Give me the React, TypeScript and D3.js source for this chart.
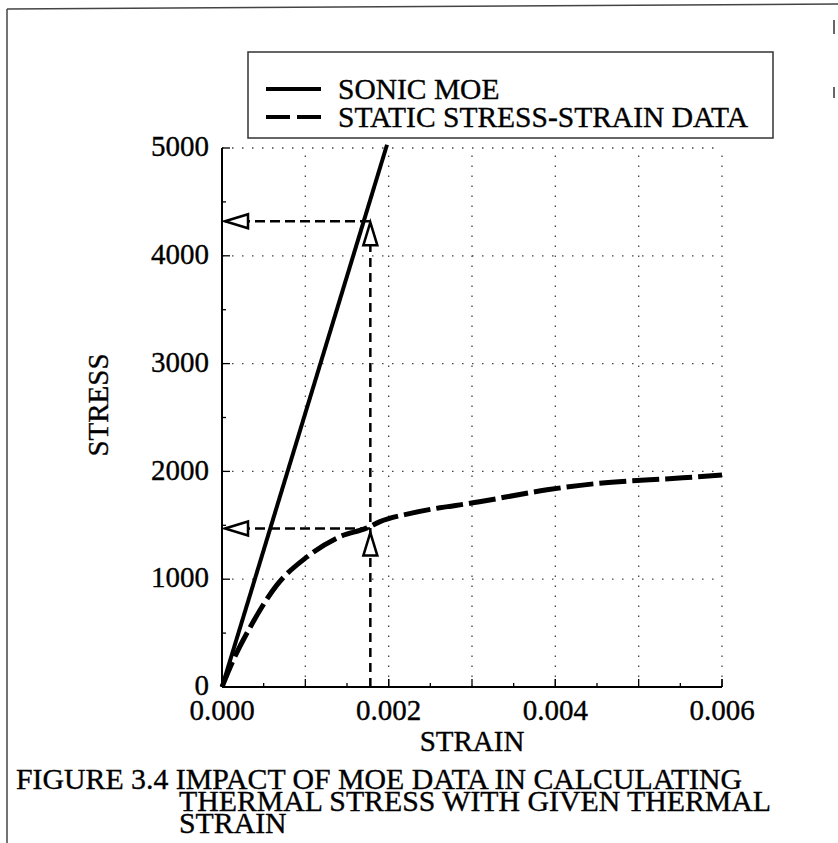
import React from 'react';
import * as d3 from 'd3';

const sonicStrain = [0, 0.00198];
const sonicStress = [0, 5030];
const staticStrain = [0, 0.00012, 0.00034, 0.00066, 0.00102, 0.00141, 0.00174, 0.00189, 0.00229, 0.00309, 0.0039, 0.00453, 0.00513, 0.00553, 0.006];
const staticStress = [0, 223, 557, 947, 1207, 1393, 1476, 1532, 1615, 1718, 1829, 1890, 1922, 1940, 1966];
const arrowStrain = 0.00178;
const arrowStress = [4320, 1470];
const xTickValues = [0, 0.002, 0.004, 0.006];
const xTickLabels = ['0.000', '0.002', '0.004', '0.006'];
const yTickValues = [0, 1000, 2000, 3000, 4000, 5000];
const yTickLabels = ['0', '1000', '2000', '3000', '4000', '5000'];
const legendLabels = ['SONIC MOE', 'STATIC STRESS-STRAIN DATA'];
const xTitle = 'STRAIN';
const yTitle = 'STRESS';
const captionLines = ['FIGURE 3.4 IMPACT OF MOE DATA IN CALCULATING', 'THERMAL STRESS WITH GIVEN THERMAL', 'STRAIN'];

const FONT = '"Liberation Serif", "Times New Roman", serif';

export default function App() {
  const W = 838, H = 843;
  const x = d3.scaleLinear().domain([0, 0.006]).range([222, 722]);
  const y = d3.scaleLinear().domain([0, 5000]).range([687, 148]);
  const [x0, x1] = x.range();
  const [y0, y1] = y.range();

  const gridX = d3.range(0.001, 0.0061, 0.001);
  const gridY = d3.range(1000, 5001, 1000);
  const minorX = d3.range(0.0005, 0.006, 0.001);
  const minorY = d3.range(500, 5000, 1000);

  const line = d3.line<[number, number]>().x(d => x(d[0])).y(d => y(d[1]));
  const sonicPath = line(sonicStrain.map((s, i) => [s, sonicStress[i]]));
  const staticPath = d3.line<[number, number]>().x(d => x(d[0])).y(d => y(d[1])).curve(d3.curveMonotoneX)(
    staticStrain.map((s, i) => [s, staticStress[i]])
  );

  const ax = x(arrowStrain);
  const triLen = 23, triHalf = 7;
  const upTri = (tx: number, ty: number) => `M${tx},${ty} L${tx - triHalf},${ty + triLen} L${tx + triHalf},${ty + triLen} Z`;
  const leftTri = (tx: number, ty: number) => `M${tx},${ty} L${tx + triLen},${ty - triHalf} L${tx + triLen},${ty + triHalf} Z`;

  const txt = { fill: '#000', stroke: '#000', strokeWidth: 0.35 };

  return (
    <svg width={W} height={H} style={{ position: 'absolute', left: 0, top: 0, background: '#fff' }} fontFamily={FONT}>
      <rect width={W} height={H} fill="#fff" />
      {/* page frame */}
      <line x1={7} y1={9} x2={838} y2={4} stroke="#444" strokeWidth={1.5} />
      <line x1={7} y1={9} x2={7} y2={843} stroke="#444" strokeWidth={1.5} />
      <line x1={834} y1={20} x2={834} y2={34} stroke="#666" strokeWidth={2} />
      <line x1={834} y1={87} x2={834} y2={98} stroke="#666" strokeWidth={2} />

      {/* grid */}
      {gridX.map(v => (
        <line key={'gx' + v} x1={x(v)} x2={x(v)} y1={y0} y2={y1} stroke="#444" strokeWidth={1.3} strokeDasharray="1.5 8.5" />
      ))}
      {gridY.map(v => (
        <line key={'gy' + v} x1={x0} x2={x1} y1={y(v)} y2={y(v)} stroke="#444" strokeWidth={1.3} strokeDasharray="1.5 8.5" />
      ))}

      {/* axes */}
      <line x1={x0} x2={x1} y1={y0} y2={y0} stroke="#000" strokeWidth={2} />
      <line x1={x0} x2={x0} y1={y0} y2={y1} stroke="#000" strokeWidth={2} />
      {xTickValues.concat(gridX).map((v, i) => (
        <line key={'xt' + i} x1={x(v)} x2={x(v)} y1={y0} y2={y0 - 8} stroke="#000" strokeWidth={1.3} />
      ))}
      {minorX.map((v, i) => (
        <line key={'xm' + i} x1={x(v)} x2={x(v)} y1={y0} y2={y0 - 4} stroke="#000" strokeWidth={1.3} />
      ))}
      {yTickValues.map((v, i) => (
        <line key={'yt' + i} x1={x0} x2={x0 + 8} y1={y(v)} y2={y(v)} stroke="#000" strokeWidth={1.3} />
      ))}
      {minorY.map((v, i) => (
        <line key={'ym' + i} x1={x0} x2={x0 + 4} y1={y(v)} y2={y(v)} stroke="#000" strokeWidth={1.3} />
      ))}

      {/* tick labels */}
      {xTickValues.map((v, i) => (
        <text key={'xl' + i} x={x(v)} y={720} textAnchor="middle" fontSize={29} {...txt}>{xTickLabels[i]}</text>
      ))}
      {yTickValues.map((v, i) => (
        <text key={'yl' + i} x={209} y={y(v) - 2} dy="0.35em" textAnchor="end" fontSize={29} {...txt}>{yTickLabels[i]}</text>
      ))}
      <text x={(x0 + x1) / 2} y={751} textAnchor="middle" fontSize={29} {...txt}>{xTitle}</text>
      <text transform={`translate(108,405) rotate(-90)`} textAnchor="middle" fontSize={29} {...txt}>{yTitle}</text>

      {/* arrows (dashed guides) */}
      {arrowStress.map((s, i) => (
        <line key={'ah' + i} x1={x(0) + 3} x2={ax} y1={y(s)} y2={y(s)} stroke="#000" strokeWidth={2.5} strokeDasharray="10 5" />
      ))}
      <line x1={ax} x2={ax} y1={y0} y2={y(arrowStress[0]) + triLen} stroke="#000" strokeWidth={2.5} strokeDasharray="9 6" />

      {/* data */}
      <path d={sonicPath || ''} fill="none" stroke="#000" strokeWidth={4} />
      <path d={staticPath || ''} fill="none" stroke="#000" strokeWidth={5} strokeDasharray="27 6" />

      {/* arrow heads */}
      {arrowStress.map((s, i) => (
        <path key={'lt' + i} d={leftTri(x(0) + 3, y(s))} fill="#fff" stroke="#000" strokeWidth={2.5} strokeLinejoin="miter" />
      ))}
      <path d={upTri(ax, y(arrowStress[0]) + 1)} fill="#fff" stroke="#000" strokeWidth={2.5} />
      <path d={upTri(ax, y(arrowStress[1]) + 4)} fill="#fff" stroke="#000" strokeWidth={2.5} />

      {/* legend */}
      <rect x={248} y={52} width={525} height={86} fill="#fff" stroke="#333" strokeWidth={1.5} />
      <line x1={266} x2={321} y1={89} y2={89} stroke="#000" strokeWidth={4} />
      <line x1={266} x2={321} y1={117} y2={117} stroke="#000" strokeWidth={4} strokeDasharray="24 7" />
      <text x={338} y={99} fontSize={29.5} {...txt}>{legendLabels[0]}</text>
      <text x={338} y={127} fontSize={29.5} {...txt}>{legendLabels[1]}</text>

      {/* caption */}
      <text x={16} y={789} fontSize={29.8} {...txt}>{captionLines[0]}</text>
      <text x={179} y={811} fontSize={29.8} {...txt}>{captionLines[1]}</text>
      <text x={179} y={833} fontSize={29.8} {...txt}>{captionLines[2]}</text>
    </svg>
  );
}
